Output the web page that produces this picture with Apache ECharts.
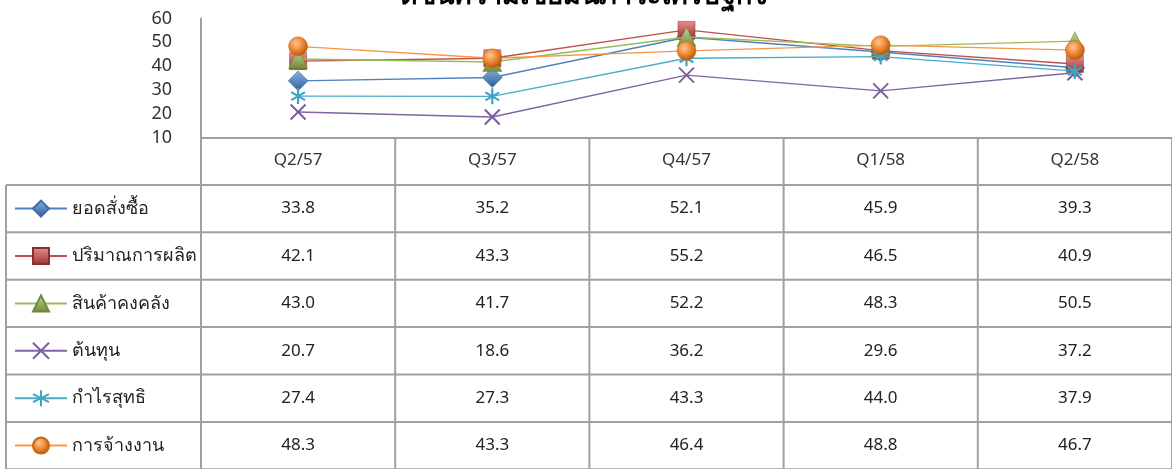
<!DOCTYPE html>
<html><head><meta charset="utf-8">
<script src="https://cdn.jsdelivr.net/npm/echarts@6/dist/echarts.min.js"></script>
<style>html,body{margin:0;padding:0;background:#fff}#c{width:1172px;height:469px}</style>
</head><body><div id="c"></div>
<script>
const titleText = 'ดัชนีความเชื่อมั่นภาวะเศรษฐกิจ';
const categories = ['Q2/57', 'Q3/57', 'Q4/57', 'Q1/58', 'Q2/58'];
const seriesNames = ['ยอดสั่งซื้อ', 'ปริมาณการผลิต', 'สินค้าคงคลัง', 'ต้นทุน', 'กำไรสุทธิ', 'การจ้างงาน'];
const orders = [33.8, 35.2, 52.1, 45.9, 39.3];
const production = [42.1, 43.3, 55.2, 46.5, 40.9];
const inventory = [43.0, 41.7, 52.2, 48.3, 50.5];
const cost = [20.7, 18.6, 36.2, 29.6, 37.2];
const profit = [27.4, 27.3, 43.3, 44.0, 37.9];
const employment = [48.3, 43.3, 46.4, 48.8, 46.7];
const yMin = 10, yMax = 60, yInterval = 10;

const allValues = [orders, production, inventory, cost, profit, employment];
const FONT = '"Noto Sans", "DejaVu Sans", sans-serif';
const GRID_LINE = '#a0a0a0';

function lg(c1, c2) {
  return new echarts.graphic.LinearGradient(0, 0, 0, 1, [{offset: 0, color: c1}, {offset: 1, color: c2}]);
}
const styles = [
  {line: '#4F81BD', symbol: 'diamond', size: [20, 20], item: {color: lg('#8DB3E2', '#2C5D98'), borderColor: '#3A6AA8', borderWidth: 0.5}},
  {line: '#C0504D', symbol: 'rect', size: [17, 17], item: {color: lg('#E8908D', '#983330'), borderColor: '#8C2F2C', borderWidth: 0.5}},
  {line: '#9BBB59', symbol: 'triangle', size: [19, 19], item: {color: lg('#C3D69B', '#6E8A38'), borderColor: '#6E8A38', borderWidth: 0.5}},
  {line: '#8064A2', symbol: 'path://M0,0L10,10M10,0L0,10', size: [15, 15], item: {color: 'rgba(0,0,0,0)', borderColor: '#7A5F9E', borderWidth: 2}},
  {line: '#4BACC6', symbol: 'path://M5,0L5,10M0.7,2.5L9.3,7.5M9.3,2.5L0.7,7.5', size: [16, 16], item: {color: 'rgba(0,0,0,0)', borderColor: '#3FA5C0', borderWidth: 2.2}},
  {line: '#F79646', symbol: 'circle', size: [19, 19], item: {color: new echarts.graphic.RadialGradient(0.4, 0.35, 0.65, [{offset: 0, color: '#FCC998'}, {offset: 0.55, color: '#EE8530'}, {offset: 1, color: '#B4580E'}]), borderColor: '#C8650F', borderWidth: 0.5}}
];

const series = seriesNames.map((name, i) => ({
  name: name,
  type: 'line',
  data: allValues[i],
  symbol: styles[i].symbol,
  symbolSize: styles[i].size,
  symbolKeepAspect: true,
  lineStyle: {color: styles[i].line, width: 1.4},
  itemStyle: styles[i].item,
  z: 2 + i,
  animation: false
}));

const chart = echarts.init(document.getElementById('c'), null, {renderer: 'canvas'});
chart.setOption({
  backgroundColor: '#ffffff',
  animation: false,
  grid: {left: 201, right: -6, top: 18.5, bottom: 331.5, containLabel: false},
  xAxis: {
    type: 'category', data: categories, boundaryGap: true,
    axisLine: {show: true, lineStyle: {color: GRID_LINE, width: 2}},
    axisTick: {show: false},
    axisLabel: {margin: 14, fontSize: 17, color: '#333', fontFamily: FONT}
  },
  yAxis: {
    type: 'value', min: yMin, max: yMax, interval: yInterval,
    axisLine: {show: true, lineStyle: {color: GRID_LINE, width: 2}},
    axisTick: {show: false},
    splitLine: {show: false},
    axisLabel: {margin: 29, fontSize: 18, color: '#333', fontFamily: FONT}
  },
  legend: {
    orient: 'vertical', left: 14, top: 198.6, padding: 0,
    itemWidth: 52, itemHeight: 20, itemGap: 27.4,
    textStyle: {fontSize: 18, color: '#222', fontFamily: FONT, lineHeight: 20},
    selectedMode: false,
    data: seriesNames
  },
  series: series
});

// Data table (grid lines + values) laid out from the axis scales
const x0 = chart.convertToPixel({xAxisIndex: 0}, 0);
const x1 = chart.convertToPixel({xAxisIndex: 0}, 1);
const band = x1 - x0;
const axisY = chart.convertToPixel({yAxisIndex: 0}, yMin);
const topY = chart.convertToPixel({yAxisIndex: 0}, yMax);
const rowH = 47.4;
const tableLeft = 6;
const plotLeft = x0 - band / 2;
const plotRight = plotLeft + band * categories.length;
const nRows = seriesNames.length;
const els = [];
function hline(x1_, x2_, y) { els.push({type: 'line', silent: true, shape: {x1: x1_, y1: y, x2: x2_, y2: y}, style: {stroke: GRID_LINE, lineWidth: 2}, z: 1}); }
function vline(x, y1_, y2_) { els.push({type: 'line', silent: true, shape: {x1: x, y1: y1_, x2: x, y2: y2_}, style: {stroke: GRID_LINE, lineWidth: 2}, z: 1}); }
const tableBottom = axisY + rowH * (nRows + 1);
for (let r = 1; r <= nRows + 1; r++) hline(tableLeft, plotRight, axisY + rowH * r);
vline(tableLeft, axisY + rowH, tableBottom);
vline(plotLeft, topY, tableBottom);
for (let c = 1; c <= categories.length; c++) vline(plotLeft + band * c, axisY, tableBottom);
for (let r = 0; r < nRows; r++) {
  for (let c = 0; c < categories.length; c++) {
    els.push({type: 'text', silent: true, x: x0 + band * c, y: axisY + rowH * (r + 1.5),
      style: {text: allValues[r][c].toFixed(1), fill: '#222', font: '17px ' + FONT, textAlign: 'center', textVerticalAlign: 'middle'}, z: 3});
  }
}
els.push({type: 'text', silent: true, x: 584, y: 10,
  style: {text: titleText, fill: '#000', font: 'bold 27px ' + FONT, textAlign: 'center', textVerticalAlign: 'bottom'}, z: 3});
chart.setOption({graphic: {elements: els}});
</script>
</body></html>
